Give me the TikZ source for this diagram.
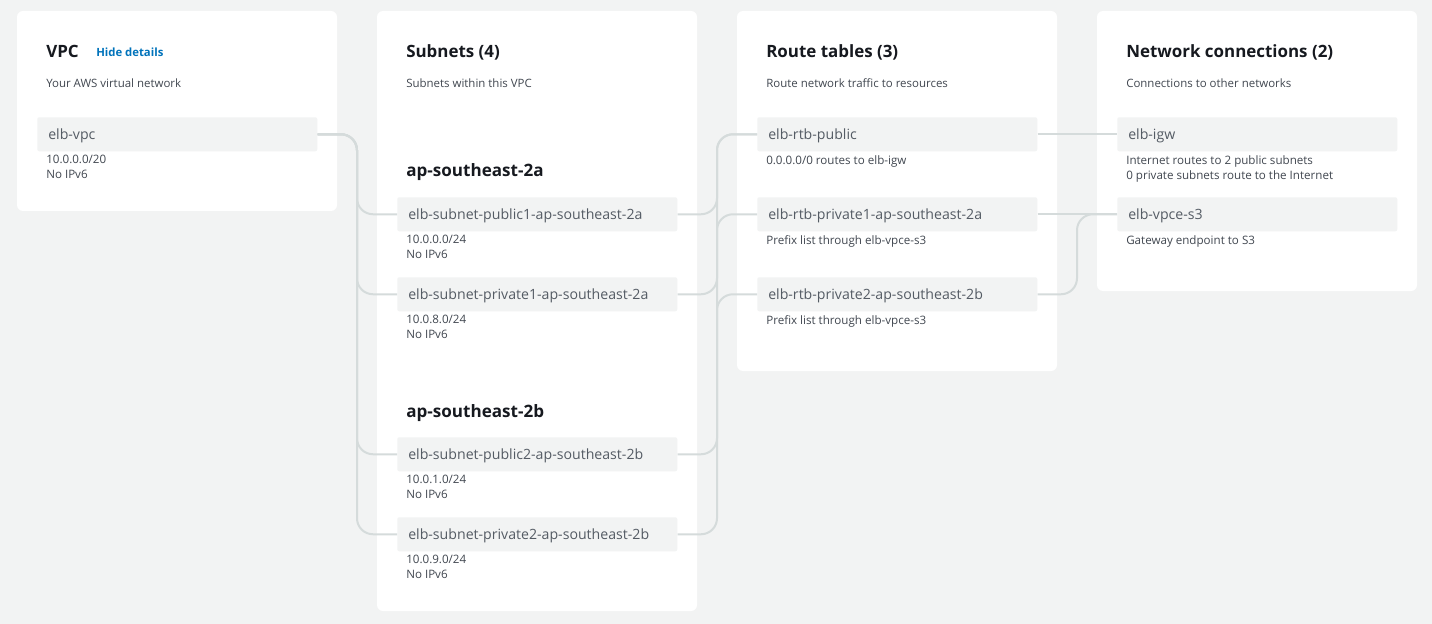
\documentclass[tikz,border=0pt]{standalone}
\usepackage{fontspec}
\setmainfont{Open Sans}
\definecolor{bgc}{HTML}{F2F3F3}
\definecolor{boxc}{HTML}{F2F3F3}
\definecolor{titlec}{HTML}{16191F}
\definecolor{labc}{HTML}{545B64}
\definecolor{detc}{HTML}{414750}
\definecolor{bluec}{HTML}{0073BB}
\definecolor{connc}{HTML}{D5DBDB}
\tikzset{
  panel/.style={fill=white, rounded corners=4.5pt},
  itembox/.style={fill=boxc, rounded corners=1.5pt, anchor=north west, minimum width=210pt, minimum height=25.5pt, text width=193.5pt, inner xsep=8.25pt, inner ysep=0pt, text height=9pt, text depth=1.5pt, align=left, text=labc, font=\fontsize{10.6}{12}\selectfont},
  detail/.style={anchor=north west, inner sep=0pt, align=left, text=detc, font=\fontsize{8.7}{11.25}\selectfont},
  ptitle/.style={anchor=base west, inner sep=0pt, text=titlec, font=\fontsize{12.7}{16}\selectfont\bfseries},
  azone/.style={anchor=base west, inner sep=0pt, text=titlec, font=\fontsize{12.8}{16}\selectfont\bfseries},
  psub/.style={anchor=base west, inner sep=0pt, text=detc, font=\fontsize{8.6}{11}\selectfont},
  conn/.style={draw=connc, line width=1.5pt, rounded corners=12pt},
}
\begin{document}
\begin{tikzpicture}[x=0.75pt, y=-0.75pt]
\fill[bgc] (0,0) rectangle (1432,624);
\useasboundingbox (0,0) rectangle (1432,624);
% panels
\path[panel] (17,11) rectangle (337,211);
\path[panel] (377,11) rectangle (697,611);
\path[panel] (737,11) rectangle (1057,371);
\path[panel] (1097,11) rectangle (1417,291);
% titles
\node[ptitle] (tvpc) at (46,57.5) {VPC};
\node[anchor=base west, inner sep=0pt, text=bluec, font=\fontsize{8.5}{10}\selectfont\bfseries] (hide) at (96,57) {Hide details};
\node[psub] (svpc) at (46,87.5) {Your AWS virtual network};
\node[ptitle] (tsub) at (406,57.5) {Subnets (4)};
\node[psub] (ssub) at (406,87.5) {Subnets within this VPC};
\node[ptitle] (trt) at (766,57.5) {Route tables (3)};
\node[psub] (srt) at (766,87.5) {Route network traffic to resources};
\node[ptitle] (tnet) at (1126,57.5) {Network connections (2)};
\node[psub] (snet) at (1126,87.5) {Connections to other networks};
\node[azone] (za) at (406,177) {ap-southeast-2a};
\node[azone] (zb) at (406,417) {ap-southeast-2b};
% VPC
\node[itembox] (vpc) at (37,117) {elb-vpc};
\node[detail] (vpcd) at (46,155) {10.0.0.0/20\\No IPv6};
% subnets
\node[itembox] (s1) at (397,197) {elb-subnet-public1-ap-southeast-2a};
\node[detail] (s1d) at (406,235) {10.0.0.0/24\\No IPv6};
\node[itembox] (s2) at (397,277) {elb-subnet-private1-ap-southeast-2a};
\node[detail] (s2d) at (406,315) {10.0.8.0/24\\No IPv6};
\node[itembox] (s3) at (397,437) {elb-subnet-public2-ap-southeast-2b};
\node[detail] (s3d) at (406,475) {10.0.1.0/24\\No IPv6};
\node[itembox] (s4) at (397,517) {elb-subnet-private2-ap-southeast-2b};
\node[detail] (s4d) at (406,555) {10.0.9.0/24\\No IPv6};
% route tables
\node[itembox] (r1) at (757,117) {elb-rtb-public};
\node[detail] (r1d) at (766,155) {0.0.0.0/0 routes to elb-igw};
\node[itembox] (r2) at (757,197) {elb-rtb-private1-ap-southeast-2a};
\node[detail] (r2d) at (766,235) {Prefix list through elb-vpce-s3};
\node[itembox] (r3) at (757,277) {elb-rtb-private2-ap-southeast-2b};
\node[detail] (r3d) at (766,315) {Prefix list through elb-vpce-s3};
% network connections
\node[itembox] (n1) at (1117,117) {elb-igw};
\node[detail] (n1d) at (1126,155) {Internet routes to 2 public subnets\\0 private subnets route to the Internet};
\node[itembox] (n2) at (1117,197) {elb-vpce-s3};
\node[detail] (n2d) at (1126,235) {Gateway endpoint to S3};
% trunk coordinates
\coordinate (t1) at (357,0);
\coordinate (t2) at (717,0);
\coordinate (t3) at (1077,0);
% connectors
\draw[conn] (vpc.east) -- (vpc.east -| t1) |- (s1.west);
\draw[conn] (vpc.east) -- (vpc.east -| t1) |- (s2.west);
\draw[conn] (vpc.east) -- (vpc.east -| t1) |- (s3.west);
\draw[conn] (vpc.east) -- (vpc.east -| t1) |- (s4.west);
\draw[conn] (s1.east) -- (s1.east -| t2) |- (r1.west);
\draw[conn] (s2.east) -- (s2.east -| t2) |- (r2.west);
\draw[conn] (s3.east) -- (s3.east -| t2) |- (r1.west);
\draw[conn] (s4.east) -- (s4.east -| t2) |- (r3.west);
\draw[conn] (r1.east) -- (n1.west);
\draw[conn] (r2.east) -- (n2.west);
\draw[conn] (r3.east) -- (r3.east -| t3) |- (n2.west);
\end{tikzpicture}
\end{document}
